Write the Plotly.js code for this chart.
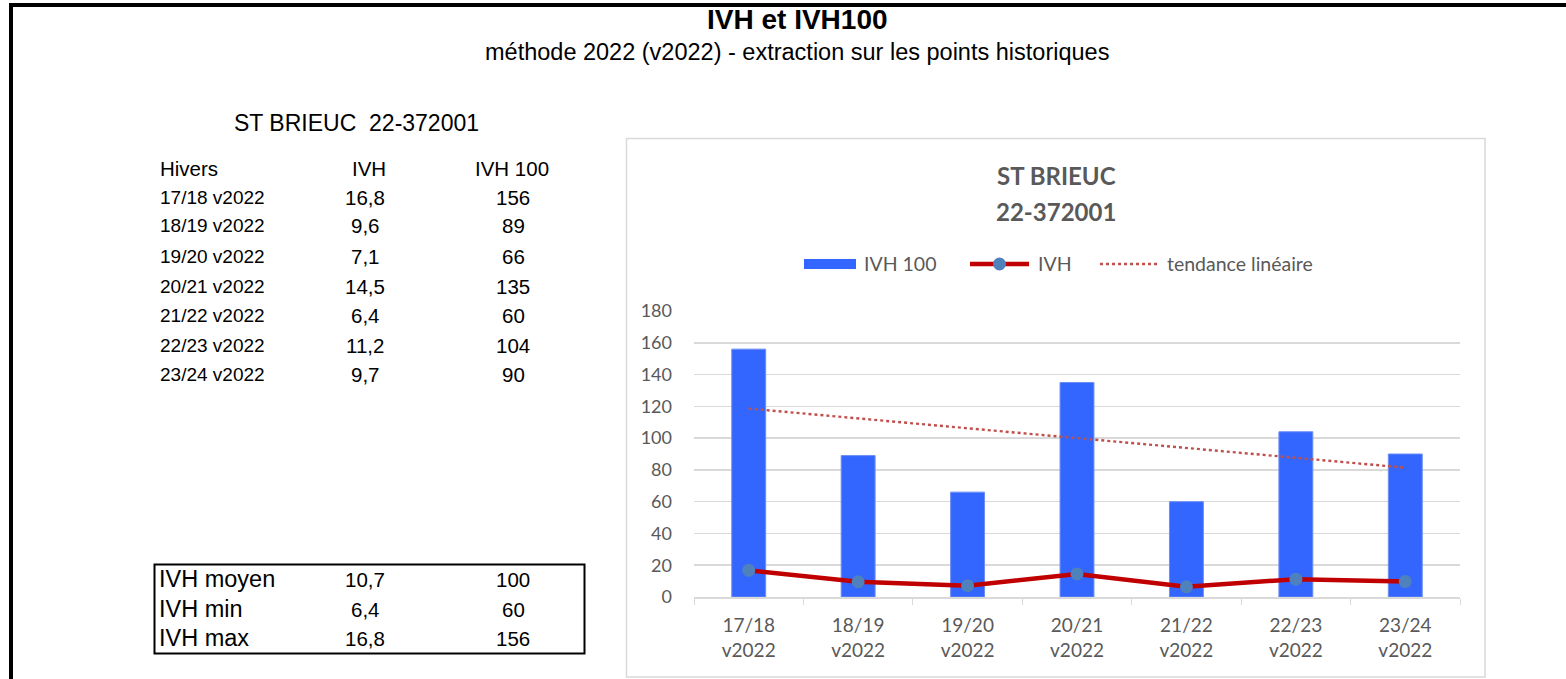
<!DOCTYPE html>
<html>
<head>
<meta charset="utf-8">
<script src="https://cdn.plot.ly/plotly-3.0.1.min.js"></script>
<style>
  body { margin: 0; background: #fff; }
  #chart { width: 1566px; height: 679px; }
</style>
</head>
<body>
<div id="chart"></div>
<script>
// winters and values (IVH and IVH 100)
const hivers = ['17/18 v2022', '18/19 v2022', '19/20 v2022', '20/21 v2022', '21/22 v2022', '22/23 v2022', '23/24 v2022'];
const ivh = [16.8, 9.6, 7.1, 14.5, 6.4, 11.2, 9.7];
const ivh100 = [156, 89, 66, 135, 60, 104, 90];
// linear trend read at the first and last winter
const trendHivers = ['17/18 v2022', '23/24 v2022'];
const trendValues = [118.6, 81.4];
// summary rows
const summaryLabels = ['IVH moyen', 'IVH min', 'IVH max'];
const summaryIvh = ['10,7', '6,4', '16,8'];
const summaryIvh100 = ['100', '60', '156'];

const W = 1566, H = 679;
const px = x => x / W;
const py = y => 1 - y / H;

const arial = 'Liberation Sans, Arial, sans-serif';
const calibri = 'Lato, Open Sans, sans-serif';
const grey = '#595959';

const catTicks = hivers.map(h => h.replace(' ', '<br>'));

const fr = v => String(v).replace('.', ',');

const barColor = '#3366ff', ivhColor = '#c00000', dotColor = '#4f81bd', trendColor = '#c0504d';

var data = [
    {
        x: hivers, y: ivh100, type: 'bar', name: 'IVH 100',
        marker: { color: barColor, line: { color: '#6d8ff5', width: 1 } },
        width: 0.31, hoverinfo: 'skip'
    },
    {
        x: hivers, y: ivh, type: 'scatter', mode: 'lines+markers', name: 'IVH',
        line: { color: ivhColor, width: 4.5 },
        marker: { color: dotColor, size: 13 },
        hoverinfo: 'skip'
    },
    {
        x: trendHivers, y: trendValues, type: 'scatter', mode: 'lines', name: 'tendance linéaire',
        line: { color: trendColor, width: 2.4, dash: 'dot' },
        hoverinfo: 'skip'
    }
];

var annotations = [];
function txt(x, y, text, opts) {
    annotations.push(Object.assign({
        xref: 'paper', yref: 'paper', x: px(x), y: py(y), text: text,
        showarrow: false, xanchor: 'center', yanchor: 'middle',
        font: { family: arial, size: 20.5, color: '#000' }
    }, opts || {}));
}

// page titles
txt(797, 19, '<b>IVH et IVH100</b>', { font: { family: arial, size: 28, color: '#000' } });
txt(797, 52, 'méthode 2022 (v2022) - extraction sur les points historiques', { font: { family: arial, size: 23.5, color: '#000' } });
txt(232, 123, 'ST BRIEUC  22-372001', { xanchor: 'left', font: { family: arial, size: 23, color: '#000' } });

// left table
const rowY = [197, 226, 256, 286, 315, 345, 374];
txt(158, 168, 'Hivers', { xanchor: 'left' });
txt(369, 168, 'IVH');
txt(512, 168, 'IVH 100');
hivers.forEach((h, i) => {
    txt(158, rowY[i], h, { xanchor: 'left', font: { family: arial, size: 19, color: '#000' } });
    txt(365, rowY[i], fr(ivh[i]));
    txt(513, rowY[i], String(ivh100[i]));
});

// summary box
const sumY = [579, 609, 638];
summaryLabels.forEach((s, i) => {
    txt(157, sumY[i], s, { xanchor: 'left', font: { family: arial, size: 23.5, color: '#000' } });
    txt(365, sumY[i], summaryIvh[i]);
    txt(513, sumY[i], summaryIvh100[i]);
});

// chart title
txt(1056, 176, '<b>ST BRIEUC</b>', { font: { family: calibri, size: 24, color: grey } });
txt(1056, 211, '<b>22-372001</b>', { font: { family: calibri, size: 24, color: grey } });

// legend texts (Excel style legend)
const legendFont = { family: calibri, size: 19.5, color: grey };
txt(862, 264, data[0].name, { xanchor: 'left', font: legendFont });
txt(1036, 264, data[1].name, { xanchor: 'left', font: legendFont });
txt(1165, 264, data[2].name, { xanchor: 'left', font: legendFont });

var shapes = [
    // thick page frame
    { type: 'line', xref: 'paper', yref: 'paper', x0: px(9), x1: px(W), y0: py(5), y1: py(5), line: { color: '#000', width: 4 } },
    { type: 'line', xref: 'paper', yref: 'paper', x0: px(11), x1: px(11), y0: py(3), y1: py(H), line: { color: '#000', width: 4 } },
    // summary box
    { type: 'rect', xref: 'paper', yref: 'paper', x0: px(154.5), x1: px(584.5), y0: py(564.5), y1: py(653.5), line: { color: '#000', width: 2 } },
    // chart frame
    { type: 'rect', xref: 'paper', yref: 'paper', x0: px(626.5), x1: px(1485), y0: py(138.5), y1: py(677), line: { color: '#d9d9d9', width: 1.5 } },
    // legend keys
    { type: 'rect', xref: 'paper', yref: 'paper', x0: px(804), x1: px(856), y0: py(259), y1: py(269), fillcolor: barColor, line: { width: 0 } },
    { type: 'line', xref: 'paper', yref: 'paper', x0: px(970), x1: px(1029), y0: py(264), y1: py(264), line: { color: ivhColor, width: 4.5 } },
    { type: 'circle', xref: 'paper', yref: 'paper', x0: px(993), x1: px(1006), y0: py(257.5), y1: py(270.5), fillcolor: dotColor, line: { width: 0 } },
    { type: 'line', xref: 'paper', yref: 'paper', x0: px(1100), x1: px(1160), y0: py(264), y1: py(264), line: { color: trendColor, width: 2.4, dash: 'dot' } }
];

var layout = {
    width: W, height: H,
    margin: { t: 0, b: 0, l: 0, r: 0 },
    paper_bgcolor: '#fff', plot_bgcolor: '#fff',
    showlegend: false,
    xaxis: {
        domain: [px(694), px(1460)],
        tickvals: hivers, ticktext: catTicks,
        tickfont: { family: calibri, size: 19, color: grey },
        ticks: 'outside', tickson: 'boundaries', ticklen: 6, tickcolor: '#d9d9d9',
        ticklabelstandoff: 11,
        showline: true, linecolor: '#d9d9d9', linewidth: 1.5,
        showgrid: false, fixedrange: true
    },
    yaxis: {
        domain: [py(597), py(311)],
        range: [0, 180], dtick: 20,
        tickfont: { family: calibri, size: 18, color: grey },
        gridcolor: '#d9d9d9', gridwidth: 1.5, zeroline: false,
        showline: false, ticks: '', ticklabelstandoff: 21, fixedrange: true
    },
    annotations: annotations,
    shapes: shapes
};

Plotly.newPlot('chart', data, layout, { displayModeBar: false, staticPlot: true });
</script>
</body>
</html>
